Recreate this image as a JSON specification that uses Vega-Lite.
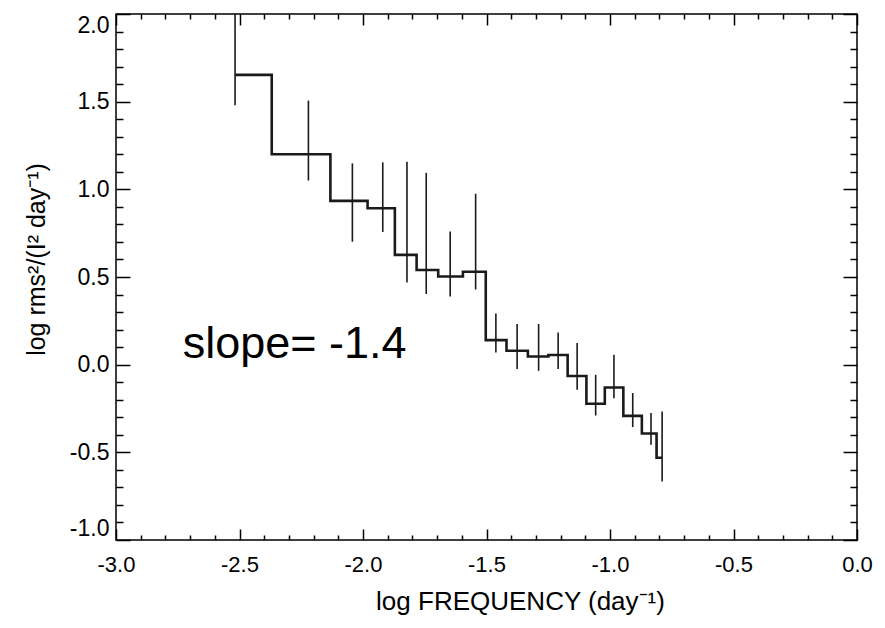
{
  "$schema": "https://vega.github.io/schema/vega-lite/v6.json",
  "autosize": "none",
  "padding": {"left": 116, "top": 14, "right": 28, "bottom": 88},
  "width": 741,
  "height": 526,
  "background": "white",
  "config": {
    "view": {"stroke": "black", "strokeWidth": 1.5},
    "font": "Liberation Sans",
    "axis": {
      "domain": false,
      "grid": false,
      "labelFont": "Liberation Sans",
      "labelFontSize": 23,
      "labelColor": "black",
      "titleFont": "Liberation Sans",
      "titleFontSize": 25,
      "titleFontWeight": "normal",
      "titleColor": "black",
      "tickColor": "black",
      "tickWidth": 1.5,
      "ticks": true,
      "labelOverlap": false,
      "labelBound": false,
      "labelFlush": false
    }
  },
  "data": {
    "values": [
      {"f": -2.518, "p": 1.653, "lo": 1.48, "hi": 2.0},
      {"f": -2.221, "p": 1.2, "lo": 1.05, "hi": 1.506},
      {"f": -2.043, "p": 0.934, "lo": 0.701, "hi": 1.148},
      {"f": -1.92, "p": 0.892, "lo": 0.757, "hi": 1.154},
      {"f": -1.822, "p": 0.626, "lo": 0.469, "hi": 1.158},
      {"f": -1.744, "p": 0.54, "lo": 0.403, "hi": 1.094},
      {"f": -1.647, "p": 0.503, "lo": 0.389, "hi": 0.759},
      {"f": -1.544, "p": 0.53, "lo": 0.429, "hi": 0.975},
      {"f": -1.462, "p": 0.14, "lo": 0.07, "hi": 0.292},
      {"f": -1.376, "p": 0.079, "lo": -0.025, "hi": 0.232},
      {"f": -1.289, "p": 0.047, "lo": -0.035, "hi": 0.232},
      {"f": -1.21, "p": 0.055, "lo": -0.025, "hi": 0.184},
      {"f": -1.133, "p": -0.065, "lo": -0.143, "hi": 0.123},
      {"f": -1.058, "p": -0.223, "lo": -0.29, "hi": -0.058},
      {"f": -0.984, "p": -0.13, "lo": -0.191, "hi": 0.056},
      {"f": -0.908, "p": -0.292, "lo": -0.356, "hi": -0.162},
      {"f": -0.834, "p": -0.393, "lo": -0.457, "hi": -0.276},
      {"f": -0.789, "p": -0.531, "lo": -0.667, "hi": -0.267}
    ]
  },
  "resolve": {"axis": {"x": "independent", "y": "independent"}},
  "layer": [
    {
      "mark": {"type": "line", "interpolate": "step", "color": "#1a1a1a", "strokeWidth": 2.6, "clip": true},
      "encoding": {
        "x": {
          "field": "f", "type": "quantitative",
          "scale": {"domain": [-3, 0], "nice": false, "zero": false},
          "axis": {
            "orient": "bottom",
            "title": "log FREQUENCY (day⁻¹)",
            "titleFontSize": 26,
            "titleX": 404,
            "titleY": 69,
            "titleBaseline": "alphabetic",
            "labelFontSize": 22,
            "tickSize": {"expr": "abs(datum.value*2 - round(datum.value*2)) < 0.001 ? -11 : -5"},
            "labelPadding": 25,
            "values": [-3,-2.9,-2.8,-2.7,-2.6,-2.5,-2.4,-2.3,-2.2,-2.1,-2,-1.9,-1.8,-1.7,-1.6,-1.5,-1.4,-1.3,-1.2,-1.1,-1,-0.9,-0.8,-0.7,-0.6,-0.5,-0.4,-0.3,-0.2,-0.1,0],
            "labelExpr": "abs(datum.value*2 - round(datum.value*2)) < 0.001 ? replace(format(datum.value, '.1f'), '\u2212', '-') : ''"
          }
        },
        "y": {
          "field": "p", "type": "quantitative",
          "scale": {"domain": [-1, 2], "nice": false, "zero": false},
          "axis": {
            "orient": "left",
            "title": "log rms²/(I² day⁻¹)",
            "titleX": -80,
            "titleY": 245,
            "titleAlign": "center",
            "titleBaseline": "middle",
            "titleAngle": 270,
            "tickSize": {"expr": "abs(datum.value*2 - round(datum.value*2)) < 0.001 ? -14 : -7"},
            "labelPadding": 21,
            "labelFlush": true,
            "values": [-1,-0.9,-0.8,-0.7,-0.6,-0.5,-0.4,-0.3,-0.2,-0.1,0,0.1,0.2,0.3,0.4,0.5,0.6,0.7,0.8,0.9,1,1.1,1.2,1.3,1.4,1.5,1.6,1.7,1.8,1.9,2],
            "labelExpr": "abs(datum.value*2 - round(datum.value*2)) < 0.001 ? replace(format(datum.value, '.1f'), '\u2212', '-') : ''"
          }
        }
      }
    },
    {
      "mark": {"type": "rule", "color": "#1a1a1a", "strokeWidth": 1.6, "clip": true},
      "encoding": {
        "x": {
          "field": "f", "type": "quantitative",
          "axis": {
            "orient": "top",
            "title": null,
            "labels": false,
            "tickSize": {"expr": "abs(datum.value*2 - round(datum.value*2)) < 0.001 ? -11 : -5"},
            "values": [-3,-2.9,-2.8,-2.7,-2.6,-2.5,-2.4,-2.3,-2.2,-2.1,-2,-1.9,-1.8,-1.7,-1.6,-1.5,-1.4,-1.3,-1.2,-1.1,-1,-0.9,-0.8,-0.7,-0.6,-0.5,-0.4,-0.3,-0.2,-0.1,0]
          }
        },
        "y": {
          "field": "lo", "type": "quantitative",
          "axis": {
            "orient": "right",
            "title": null,
            "labels": false,
            "tickSize": {"expr": "abs(datum.value*2 - round(datum.value*2)) < 0.001 ? -14 : -7"},
            "values": [-1,-0.9,-0.8,-0.7,-0.6,-0.5,-0.4,-0.3,-0.2,-0.1,0,0.1,0.2,0.3,0.4,0.5,0.6,0.7,0.8,0.9,1,1.1,1.2,1.3,1.4,1.5,1.6,1.7,1.8,1.9,2]
          }
        },
        "y2": {"field": "hi"}
      }
    },
    {
      "data": {"values": [{"tx": -2.73, "ty": 0.04, "label": "slope= -1.4"}]},
      "mark": {"type": "text", "align": "left", "baseline": "alphabetic", "fontSize": 45, "font": "Liberation Sans", "color": "black"},
      "encoding": {
        "x": {"field": "tx", "type": "quantitative", "axis": null},
        "y": {"field": "ty", "type": "quantitative", "axis": null},
        "text": {"field": "label"}
      }
    }
  ]
}
